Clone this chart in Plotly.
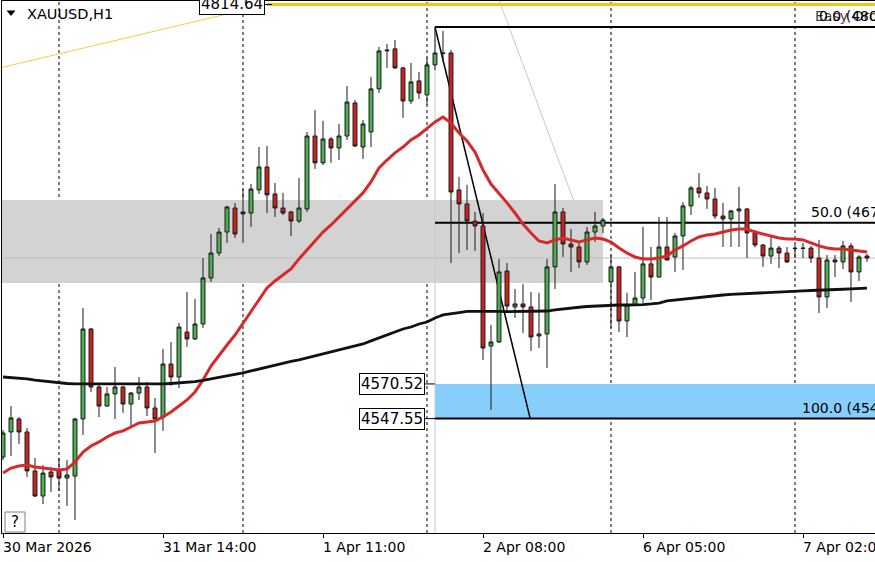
import plotly.graph_objects as go

W, H = 875, 562
ML, MR, MT, MB = 2, 0, 1, 29

# ---------------- data (XAUUSD H1) ----------------
open_ = [4522.1, 4538.7, 4547.3, 4538.7, 4512.9, 4496.3, 4512.2, 4513.5, 4508.2, 4509.5,
         4547.3, 4606.9, 4568.5, 4555.9, 4563.9, 4568.5, 4557.2, 4564.5, 4568.5, 4554.6,
         4548.6, 4583.7, 4575.1, 4604.9, 4600.3, 4610.2, 4640.7, 4657.2, 4671.1, 4687.0,
         4684.4, 4683.7, 4699.0, 4714.2, 4696.3, 4687.0, 4684.4, 4678.4, 4686.4, 4734.7,
         4716.9, 4732.7, 4726.8, 4734.7, 4756.6, 4727.4, 4737.4, 4765.9, 4791.7, 4792.4,
         4779.8, 4757.9, 4771.2, 4761.9, 4781.8, 4789.7, 4789.7, 4699.0, 4689.7, 4678.4,
         4675.1, 4595.6, 4598.3, 4645.3, 4621.5, 4623.5, 4621.5, 4602.3, 4603.6, 4648.0,
         4684.4, 4663.2, 4661.2, 4651.3, 4671.1, 4675.1, 4638.0, 4648.0, 4612.2, 4622.8,
         4627.4, 4650.0, 4641.3, 4661.2, 4654.6, 4668.5, 4688.4, 4700.3, 4697.0, 4693.0,
         4681.7, 4679.8, 4685.1, 4686.4, 4670.5, 4662.5, 4655.2, 4660.5, 4657.2, 4660.5,
         4660.5, 4660.5, 4653.9, 4628.1, 4652.6, 4651.3, 4661.9, 4644.7, 4655.2]
high = [4540.0, 4555.9, 4548.6, 4541.3, 4521.5, 4516.8, 4515.5, 4521.5, 4520.1, 4548.0,
        4620.8, 4607.5, 4570.5, 4568.5, 4581.7, 4569.2, 4565.2, 4575.1, 4571.8, 4561.2,
        4593.7, 4598.3, 4610.9, 4631.4, 4626.8, 4653.9, 4669.8, 4673.8, 4688.4, 4690.4,
        4699.6, 4702.9, 4727.4, 4728.1, 4703.6, 4697.0, 4685.1, 4706.9, 4737.4, 4752.0,
        4744.7, 4734.1, 4742.7, 4767.8, 4758.6, 4745.3, 4773.8, 4793.7, 4795.7, 4798.3,
        4780.4, 4783.1, 4777.1, 4786.4, 4806.9, 4804.3, 4791.7, 4707.6, 4702.3, 4684.4,
        4683.7, 4609.6, 4653.3, 4650.6, 4633.4, 4636.7, 4631.4, 4630.8, 4653.3, 4702.9,
        4687.0, 4673.1, 4664.5, 4674.5, 4684.4, 4680.4, 4655.9, 4648.6, 4630.8, 4644.7,
        4674.5, 4661.2, 4681.1, 4681.1, 4670.5, 4691.0, 4701.6, 4710.2, 4701.6, 4700.3,
        4690.4, 4685.7, 4701.0, 4687.0, 4672.5, 4663.2, 4667.8, 4661.9, 4661.2, 4662.5,
        4663.9, 4661.9, 4665.9, 4655.9, 4655.9, 4665.2, 4663.9, 4655.9, 4656.6]
low = [4520.1, 4522.8, 4530.7, 4508.9, 4495.6, 4491.0, 4499.0, 4499.6, 4489.7, 4480.4,
       4536.7, 4565.2, 4548.6, 4555.5, 4547.3, 4551.3, 4542.7, 4559.9, 4549.3, 4524.8,
       4539.4, 4569.2, 4567.8, 4595.0, 4599.6, 4607.6, 4638.0, 4655.2, 4663.9, 4667.2,
       4663.9, 4674.5, 4696.3, 4683.7, 4681.1, 4682.4, 4668.5, 4677.1, 4684.4, 4712.9,
       4715.5, 4716.9, 4718.8, 4732.1, 4727.4, 4719.5, 4727.4, 4763.2, 4779.8, 4779.1,
       4746.7, 4755.9, 4759.2, 4755.3, 4778.4, 4783.7, 4650.6, 4657.2, 4659.2, 4658.6,
       4586.4, 4553.3, 4597.6, 4617.5, 4614.2, 4604.3, 4592.3, 4594.3, 4581.1, 4633.4,
       4654.6, 4644.7, 4647.3, 4649.3, 4664.5, 4670.5, 4607.6, 4604.9, 4601.6, 4622.1,
       4624.1, 4626.1, 4641.0, 4652.3, 4644.7, 4646.0, 4682.4, 4693.7, 4686.4, 4679.8,
       4661.2, 4661.2, 4661.2, 4653.9, 4660.9, 4648.0, 4650.0, 4647.3, 4650.6, 4653.9,
       4653.9, 4650.6, 4617.5, 4620.8, 4641.3, 4646.6, 4624.8, 4638.7, 4651.3]
close = [4538.0, 4548.0, 4538.7, 4512.9, 4496.3, 4511.5, 4508.9, 4508.2, 4510.2, 4547.3,
         4606.9, 4568.5, 4555.9, 4563.9, 4568.5, 4557.2, 4564.5, 4568.5, 4554.6, 4547.3,
         4583.7, 4575.1, 4608.2, 4600.3, 4610.2, 4640.7, 4657.2, 4671.1, 4687.7, 4669.8,
         4683.1, 4699.6, 4714.2, 4695.7, 4687.0, 4683.7, 4678.4, 4687.0, 4734.7, 4716.9,
         4732.7, 4726.8, 4734.7, 4757.2, 4728.1, 4742.7, 4765.9, 4791.0, 4791.2, 4779.8,
         4757.9, 4770.5, 4763.2, 4781.8, 4789.7, 4789.4, 4697.6, 4689.7, 4678.4, 4675.1,
         4594.3, 4598.3, 4644.7, 4622.1, 4623.5, 4621.5, 4601.6, 4603.6, 4648.0, 4684.4,
         4663.2, 4661.2, 4651.3, 4671.1, 4675.1, 4679.1, 4648.0, 4612.2, 4622.8, 4627.4,
         4650.0, 4641.3, 4661.2, 4652.6, 4668.5, 4688.4, 4700.3, 4697.0, 4693.0, 4681.7,
         4679.8, 4685.1, 4686.4, 4670.5, 4662.5, 4655.2, 4660.5, 4657.2, 4651.3, 4660.2,
         4660.3, 4653.9, 4628.1, 4652.6, 4651.3, 4661.9, 4644.7, 4654.6, 4653.9]
ma_fast = [4511.5, 4514.8, 4516.2, 4516.8, 4515.5, 4514.8, 4514.2, 4513.5, 4514.2, 4518.8,
           4525.4, 4529.4, 4532.1, 4535.4, 4538.0, 4539.4, 4542.0, 4544.7, 4545.3, 4546.0,
           4548.6, 4551.9, 4555.9, 4559.9, 4565.2, 4573.1, 4582.4, 4589.7, 4596.3, 4602.9,
           4610.9, 4618.2, 4626.8, 4634.1, 4638.7, 4642.7, 4646.6, 4653.3, 4659.2, 4665.2,
           4671.1, 4675.8, 4681.1, 4685.7, 4691.0, 4697.0, 4704.3, 4713.5, 4718.8, 4723.5,
           4727.4, 4732.1, 4735.4, 4739.4, 4744.0, 4747.3, 4743.3, 4736.7, 4731.4, 4724.1,
           4712.2, 4702.9, 4697.0, 4690.4, 4683.7, 4676.4, 4670.5, 4665.2, 4663.9, 4665.9,
           4667.2, 4665.9, 4664.5, 4665.9, 4667.2, 4666.5, 4664.5, 4660.5, 4657.2, 4654.6,
           4653.3, 4653.3, 4653.9, 4655.2, 4659.2, 4661.9, 4665.2, 4667.8, 4669.2, 4669.8,
           4671.1, 4672.5, 4673.1, 4673.1, 4671.1, 4669.8, 4668.5, 4667.2, 4666.5, 4666.5,
           4665.9, 4663.9, 4661.9, 4660.5, 4659.9, 4659.9, 4659.2, 4658.6, 4657.9]
ma_slow = [4575.1, 4574.8, 4574.4, 4573.8, 4573.1, 4572.5, 4571.8, 4571.1, 4570.8, 4570.5,
           4570.5, 4570.5, 4570.5, 4570.5, 4570.3, 4570.3, 4570.3, 4570.3, 4570.5, 4570.5,
           4570.5, 4570.8, 4571.1, 4571.6, 4572.0, 4572.8, 4573.8, 4574.4, 4575.4, 4576.8,
           4577.8, 4579.1, 4580.4, 4581.7, 4583.1, 4584.4, 4585.4, 4586.4, 4587.7, 4589.0,
           4590.4, 4591.7, 4593.0, 4594.3, 4595.6, 4597.0, 4599.0, 4600.9, 4602.9, 4604.9,
           4606.9, 4608.2, 4610.2, 4611.5, 4614.2, 4616.2, 4617.2, 4617.8, 4618.5, 4618.6,
           4618.6, 4618.5, 4618.5, 4618.4, 4618.4, 4618.5, 4618.6, 4618.8, 4618.8, 4619.5,
           4620.2, 4620.8, 4621.3, 4621.8, 4622.1, 4622.5, 4622.8, 4622.8, 4622.8, 4622.8,
           4623.1, 4623.5, 4624.1, 4625.5, 4626.1, 4626.8, 4627.4, 4628.1, 4628.4, 4628.8,
           4629.4, 4629.8, 4630.1, 4630.4, 4630.8, 4631.1, 4631.4, 4631.6, 4631.9, 4632.1,
           4632.2, 4632.4, 4632.5, 4632.7, 4632.9, 4633.2, 4633.4, 4633.7, 4633.9]

tick_bars = [0, 20, 40, 60, 80, 100]
tick_text = ["30 Mar 2026", "31 Mar 14:00", "1 Apr 11:00", "2 Apr 08:00", "6 Apr 05:00", "7 Apr 02:00"]
day_sep_bars = [7, 30, 53, 76, 99]

zone_low, zone_high, zone_end_bar = 4637.4, 4692.3, 75
fib_high, fib_low = 4806.9, 4547.55
fib_start_bar, fib_end_bar = 54, 65.9
box_top, box_bottom = 4570.52, 4547.55
yellow_level, yellow_label = 4821.8, "4814.64"
yellow_diag = [(-0.375, 4779.8), (33, 4821.8)]
gray_diag = [(62.0, 4824.8), (71.3, 4692.3)]

x = list(range(len(open_)))
X_RANGE = [-0.125, 109.0]
Y_RANGE = [4471.8, 4824.1]
FONT = "DejaVu Sans"


def pxx(px):
    return (px - ML) / (W - ML - MR)


def pxy(py):
    return (H - MB - py) / (H - MB - MT)


fig = go.Figure()
fig.add_trace(go.Candlestick(
    x=x, open=open_, high=high, low=low, close=close,
    increasing=dict(line=dict(color="#1a1a1a", width=1), fillcolor="#4caf50"),
    decreasing=dict(line=dict(color="#1a1a1a", width=1), fillcolor="#cc2222"),
    whiskerwidth=0, hoverinfo="skip", showlegend=False))
fig.add_trace(go.Scatter(x=x, y=ma_fast, mode="lines", line=dict(color="#d62a2a", width=3),
                         hoverinfo="skip", showlegend=False))
fig.add_trace(go.Scatter(x=x, y=ma_slow, mode="lines", line=dict(color="#111111", width=2.8),
                         hoverinfo="skip", showlegend=False))

shapes = []
shapes.append(dict(type="rect", xref="x", yref="y", x0=X_RANGE[0] - 2, x1=zone_end_bar,
                   y0=zone_low, y1=zone_high, fillcolor="#d3d3d3", line=dict(width=0), layer="below"))
shapes.append(dict(type="rect", xref="x", yref="y", x0=fib_start_bar, x1=X_RANGE[1] + 2,
                   y0=box_bottom, y1=box_top, fillcolor="#87cefa", line=dict(width=0), layer="below"))
shapes.append(dict(type="line", xref="x", yref="y", x0=X_RANGE[0] - 2, x1=X_RANGE[1] + 2,
                   y0=close[-1], y1=close[-1], line=dict(color="#c0c0c0", width=1), layer="below"))
for b in day_sep_bars:
    shapes.append(dict(type="line", xref="x", yref="paper", x0=b, x1=b, y0=0, y1=1,
                       line=dict(color="#000000", width=1, dash="dot"), layer="below"))
shapes.append(dict(type="line", xref="x", yref="y", x0=fib_start_bar, x1=fib_start_bar,
                   y0=fib_high, y1=Y_RANGE[0], line=dict(color="#c8c8c8", width=1), layer="below"))
shapes.append(dict(type="line", xref="x", yref="y", x0=gray_diag[0][0], y0=gray_diag[0][1],
                   x1=gray_diag[1][0], y1=gray_diag[1][1], line=dict(color="#c8c8c8", width=1), layer="below"))
fib_levels = [(0.0, fib_high), (50.0, (fib_high + fib_low) / 2), (100.0, fib_low)]
for _, lv in fib_levels:
    shapes.append(dict(type="line", xref="x", yref="y", x0=fib_start_bar, x1=X_RANGE[1] + 2,
                       y0=lv, y1=lv, line=dict(color="#000000", width=2), layer="below"))
shapes.append(dict(type="line", xref="x", yref="y", x0=fib_start_bar, y0=fib_high,
                   x1=fib_end_bar, y1=fib_low, line=dict(color="#000000", width=1.5), layer="below"))
shapes.append(dict(type="line", xref="x", yref="y", x0=yellow_diag[0][0], y0=yellow_diag[0][1],
                   x1=yellow_diag[1][0], y1=yellow_diag[1][1], line=dict(color="#f2cf4a", width=1), layer="below"))
shapes.append(dict(type="line", xref="x", yref="y", x0=yellow_diag[1][0], y0=yellow_level,
                   x1=X_RANGE[1] + 2, y1=yellow_level, line=dict(color="#f0c419", width=3), layer="below"))
for lv, xa, xb in [(box_top, 425, 435), (box_bottom, 425, 435), (yellow_level, 265, 272)]:
    shapes.append(dict(type="line", xref="paper", yref="y", x0=pxx(xa), x1=pxx(xb), y0=lv, y1=lv,
                       line=dict(color="#000000", width=1)))
shapes.append(dict(type="rect", xref="paper", yref="paper", x0=pxx(5), x1=pxx(25), y0=pxy(532), y1=pxy(512),
                   fillcolor="white", line=dict(color="#808080", width=1)))
shapes.append(dict(type="path", xref="paper", yref="paper",
                   path=f"M {pxx(6.5)},{pxy(10.5)} L {pxx(15.5)},{pxy(10.5)} L {pxx(11)},{pxy(16)} Z",
                   fillcolor="#000000", line=dict(width=0)))

ann = []
for b, t in zip(tick_bars, tick_text):
    ann.append(dict(x=b, xref="x", y=pxy(547), yref="paper", text=t, showarrow=False,
                    xanchor="left", yanchor="middle", xshift=-2, font=dict(family=FONT, size=14, color="black")))
ann.append(dict(x=pxx(25), y=pxy(14), xref="paper", yref="paper", text="XAUUSD,H1", showarrow=False,
                xanchor="left", yanchor="middle", font=dict(family=FONT, size=14.5, color="black")))
ann.append(dict(x=pxx(15), y=pxy(522), xref="paper", yref="paper", text="?", showarrow=False,
                xanchor="center", yanchor="middle", font=dict(family=FONT, size=15, color="black")))
for lv, xr, txt in [(box_top, 425, f"{box_top:.2f}"), (box_bottom, 425, f"{box_bottom:.2f}"),
                    (yellow_level, 265, yellow_label)]:
    ann.append(dict(x=pxx(xr), xref="paper", y=lv, yref="y", text=txt, showarrow=False,
                    xanchor="right", yanchor="middle", bgcolor="white", bordercolor="black",
                    borderwidth=1, borderpad=1, font=dict(family=FONT, size=15, color="black")))
ann.append(dict(x=pxx(813), xref="paper", y=fib_high, yref="y", text="Easy Order", showarrow=False,
                xanchor="left", yanchor="bottom", yshift=1, font=dict(family=FONT, size=14, color="#444444")))
for (lvl, lv), px0 in zip(fib_levels, [817, 809, 800]):
    ann.append(dict(x=pxx(px0), xref="paper", y=lv, yref="y", text=f"{lvl:.1f} ({lv:.2f})", showarrow=False,
                    xanchor="left", yanchor="bottom", yshift=1, font=dict(family=FONT, size=14, color="black")))

fig.update_layout(
    width=W, height=H, margin=dict(l=ML, r=MR, t=MT, b=MB),
    paper_bgcolor="white", plot_bgcolor="white",
    shapes=shapes, annotations=ann, showlegend=False,
    xaxis=dict(range=X_RANGE, showgrid=False, zeroline=False, showline=True, linecolor="black",
               linewidth=1, mirror=True, ticks="outside", ticklen=4, tickcolor="black",
               tickvals=tick_bars, showticklabels=False, rangeslider=dict(visible=False), fixedrange=True),
    yaxis=dict(range=Y_RANGE, showgrid=False, zeroline=False, showline=True, linecolor="black",
               linewidth=1, showticklabels=False, ticks="", fixedrange=True),
)
fig.write_html("out.html", config=dict(displayModeBar=False),
               post_script="document.body.style.margin='0';document.body.style.overflow='hidden';")
